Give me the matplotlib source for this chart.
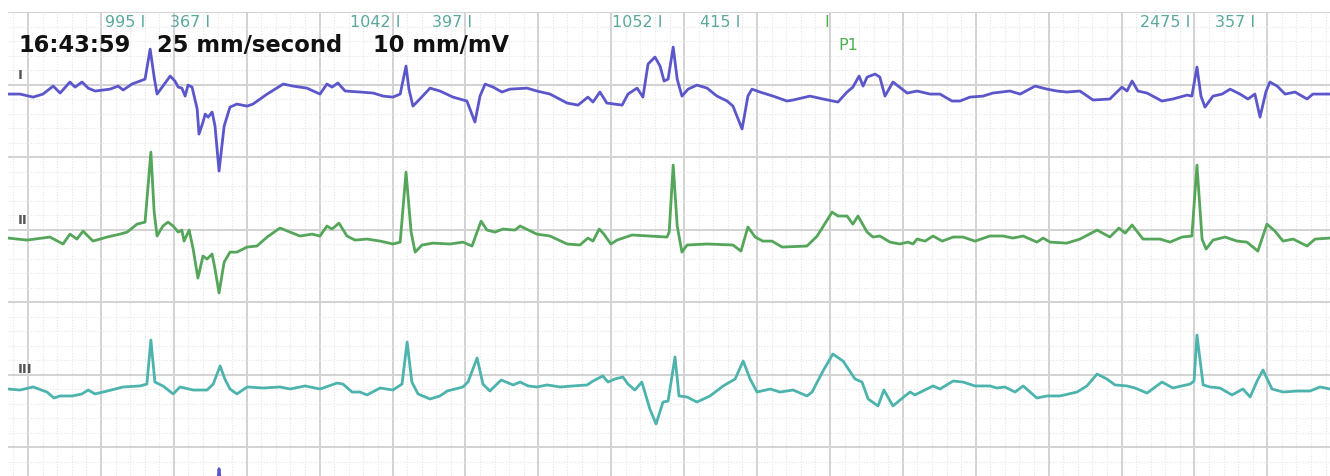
import matplotlib
matplotlib.use("Agg")
import matplotlib.pyplot as plt
import numpy as np

# ---------------- data (time in s, amplitude in mV) ----------------
lead_I_t = [-0.055, -0.022, 0.014, 0.041, 0.069, 0.088, 0.115, 0.129, 0.148, 0.165,
            0.184, 0.225, 0.247, 0.261, 0.285, 0.307, 0.321, 0.335, 0.346, 0.354,
            0.370, 0.390, 0.403, 0.412, 0.422, 0.431, 0.439, 0.450, 0.464, 0.469,
            0.480, 0.486, 0.494, 0.505, 0.513, 0.524, 0.538, 0.554, 0.573, 0.601,
            0.617, 0.656, 0.700, 0.727, 0.765, 0.801, 0.820, 0.834, 0.850, 0.870,
            0.911, 0.947, 0.974, 1.001, 1.021, 1.037, 1.045, 1.056, 1.075, 1.103,
            1.130, 1.166, 1.204, 1.226, 1.240, 1.254, 1.276, 1.300, 1.322, 1.369,
            1.396, 1.432, 1.479, 1.509, 1.536, 1.550, 1.569, 1.588, 1.630, 1.646,
            1.671, 1.687, 1.701, 1.720, 1.734, 1.745, 1.756, 1.770, 1.781, 1.794,
            1.811, 1.835, 1.863, 1.890, 1.918, 1.934, 1.959, 1.975, 1.986, 2.008,
            2.044, 2.082, 2.099, 2.145, 2.181, 2.222, 2.247, 2.263, 2.280, 2.291,
            2.302, 2.324, 2.337, 2.351, 2.373, 2.412, 2.439, 2.475, 2.502, 2.535,
            2.557, 2.584, 2.620, 2.647, 2.694, 2.722, 2.763, 2.796, 2.823, 2.850,
            2.886, 2.922, 2.968, 3.001, 3.015, 3.029, 3.045, 3.070, 3.111, 3.141,
            3.180, 3.193, 3.207, 3.218, 3.229, 3.251, 3.276, 3.298, 3.325, 3.347,
            3.366, 3.380, 3.396, 3.407, 3.427, 3.449, 3.476, 3.509, 3.525, 3.572]
lead_I_v = [0.000, 0.000, -0.021, 0.000, 0.055, 0.007, 0.083, 0.048, 0.083, 0.041,
            0.021, 0.034, 0.055, 0.028, 0.069, 0.090, 0.103, 0.310, 0.117, 0.000,
            0.055, 0.124, 0.090, 0.048, 0.041, -0.014, 0.062, 0.048, -0.103, -0.276,
            -0.193, -0.138, -0.159, -0.124, -0.221, -0.531, -0.221, -0.090, -0.069, -0.083,
            -0.069, 0.000, 0.069, 0.055, 0.041, 0.000, 0.069, 0.048, 0.076, 0.021,
            0.014, 0.007, -0.014, -0.021, 0.000, 0.193, 0.034, -0.083, -0.034, 0.041,
            0.021, -0.021, -0.048, -0.193, -0.014, 0.069, 0.048, 0.014, 0.034, 0.041,
            0.021, 0.000, -0.062, -0.076, -0.021, -0.055, 0.014, -0.062, -0.076, 0.000,
            0.041, -0.021, 0.207, 0.255, 0.193, 0.090, 0.103, 0.324, 0.103, -0.014,
            0.034, 0.062, 0.041, -0.014, -0.048, -0.083, -0.241, -0.014, 0.034, 0.014,
            -0.014, -0.048, -0.041, -0.014, -0.034, -0.055, 0.014, 0.048, 0.124, 0.055,
            0.117, 0.138, 0.117, -0.014, 0.083, 0.007, 0.021, 0.000, 0.000, -0.048,
            -0.048, -0.021, -0.014, 0.007, 0.021, 0.000, 0.055, 0.034, 0.021, 0.014,
            0.021, -0.041, -0.034, 0.048, 0.021, 0.090, 0.021, 0.007, -0.048, -0.034,
            -0.007, -0.014, 0.186, -0.014, -0.090, -0.014, 0.000, 0.034, 0.000, -0.034,
            0.000, -0.159, 0.014, 0.083, 0.055, 0.000, 0.014, -0.034, 0.000, 0.000]

lead_II_t = [-0.055, -0.003, 0.060, 0.096, 0.115, 0.134, 0.151, 0.178, 0.217, 0.252,
             0.272, 0.299, 0.321, 0.337, 0.346, 0.354, 0.370, 0.384, 0.398, 0.412,
             0.422, 0.428, 0.442, 0.453, 0.466, 0.480, 0.491, 0.505, 0.513, 0.524,
             0.538, 0.554, 0.573, 0.601, 0.628, 0.656, 0.691, 0.719, 0.746, 0.779,
             0.801, 0.820, 0.834, 0.853, 0.875, 0.897, 0.930, 0.966, 1.001, 1.021,
             1.037, 1.051, 1.062, 1.081, 1.111, 1.158, 1.193, 1.218, 1.243, 1.259,
             1.281, 1.303, 1.336, 1.350, 1.396, 1.432, 1.479, 1.514, 1.536, 1.550,
             1.567, 1.580, 1.599, 1.616, 1.657, 1.706, 1.753, 1.759, 1.770, 1.781,
             1.794, 1.808, 1.863, 1.934, 1.956, 1.975, 1.995, 2.016, 2.041, 2.069,
             2.137, 2.165, 2.206, 2.222, 2.247, 2.263, 2.277, 2.302, 2.318, 2.337,
             2.365, 2.392, 2.414, 2.428, 2.439, 2.461, 2.483, 2.508, 2.538, 2.565,
             2.598, 2.639, 2.675, 2.702, 2.730, 2.768, 2.785, 2.804, 2.850, 2.886,
             2.933, 2.968, 2.993, 3.010, 3.029, 3.059, 3.106, 3.133, 3.166, 3.193,
             3.207, 3.221, 3.232, 3.251, 3.284, 3.317, 3.344, 3.374, 3.399, 3.421,
             3.443, 3.471, 3.509, 3.531, 3.572]
lead_II_v = [0.007, -0.007, 0.014, -0.034, 0.034, 0.000, 0.055, -0.014, 0.014, 0.034,
             0.048, 0.103, 0.117, 0.600, 0.186, 0.021, 0.090, 0.117, 0.090, 0.048,
             0.062, -0.014, 0.062, -0.069, -0.269, -0.117, -0.138, -0.103, -0.207, -0.372,
             -0.159, -0.090, -0.090, -0.055, -0.048, 0.014, 0.076, 0.048, 0.021, 0.034,
             0.021, 0.090, 0.069, 0.110, 0.021, -0.007, 0.000, -0.014, -0.034, -0.021,
             0.462, 0.048, -0.090, -0.041, -0.028, -0.034, -0.021, -0.048, 0.124, 0.062,
             0.048, 0.069, 0.062, 0.090, 0.034, 0.021, -0.034, -0.041, 0.007, -0.014,
             0.069, 0.034, -0.034, -0.007, 0.028, 0.021, 0.014, 0.048, 0.510, 0.090,
             -0.090, -0.041, -0.034, -0.041, -0.083, 0.083, 0.014, -0.014, -0.014, -0.055,
             -0.048, 0.021, 0.186, 0.159, 0.159, 0.103, 0.159, 0.048, 0.014, 0.021,
             -0.021, -0.034, -0.021, -0.034, 0.000, -0.014, 0.021, -0.014, 0.014, 0.014,
             -0.014, 0.021, 0.021, 0.007, 0.021, -0.021, 0.007, -0.021, -0.028, 0.000,
             0.062, 0.014, 0.076, 0.041, 0.097, 0.000, 0.000, -0.021, 0.014, 0.021,
             0.510, 0.000, -0.069, -0.007, 0.014, -0.014, -0.021, -0.083, 0.103, 0.055,
             -0.014, 0.000, -0.048, 0.000, 0.007]

lead_III_t = [-0.055, -0.022, 0.014, 0.052, 0.071, 0.088, 0.121, 0.148, 0.165, 0.184,
              0.217, 0.261, 0.307, 0.326, 0.337, 0.348, 0.370, 0.381, 0.398, 0.417,
              0.453, 0.491, 0.508, 0.527, 0.540, 0.554, 0.573, 0.601, 0.645, 0.691,
              0.719, 0.760, 0.801, 0.848, 0.864, 0.889, 0.911, 0.930, 0.966, 1.001,
              1.026, 1.040, 1.053, 1.070, 1.103, 1.130, 1.150, 1.193, 1.207, 1.232,
              1.248, 1.267, 1.298, 1.331, 1.350, 1.372, 1.396, 1.424, 1.460, 1.495,
              1.534, 1.550, 1.577, 1.591, 1.610, 1.632, 1.646, 1.665, 1.684, 1.706,
              1.723, 1.742, 1.756, 1.775, 1.786, 1.808, 1.835, 1.871, 1.907, 1.940,
              1.962, 1.981, 2.000, 2.036, 2.063, 2.099, 2.137, 2.151, 2.181, 2.208,
              2.236, 2.269, 2.288, 2.305, 2.332, 2.348, 2.373, 2.406, 2.420, 2.433,
              2.455, 2.483, 2.502, 2.538, 2.565, 2.598, 2.639, 2.658, 2.680, 2.708,
              2.730, 2.768, 2.796, 2.831, 2.878, 2.905, 2.933, 2.960, 2.982, 3.015,
              3.037, 3.070, 3.111, 3.141, 3.188, 3.199, 3.207, 3.224, 3.243, 3.270,
              3.303, 3.333, 3.353, 3.372, 3.388, 3.413, 3.443, 3.481, 3.517, 3.545,
              3.572]
lead_III_v = [0.000, -0.007, 0.014, -0.021, -0.062, -0.048, -0.048, -0.034, -0.007, -0.034,
              -0.014, 0.014, 0.021, 0.034, 0.338, 0.048, 0.021, 0.000, -0.034, 0.014,
              -0.007, -0.007, 0.034, 0.159, 0.069, 0.000, -0.034, 0.014, 0.007, 0.014,
              0.000, 0.021, 0.000, 0.041, 0.034, -0.021, -0.021, -0.041, 0.007, -0.007,
              0.034, 0.324, 0.048, -0.034, -0.069, -0.048, -0.014, 0.014, 0.048, 0.214,
              0.034, -0.014, 0.062, 0.028, 0.048, 0.021, 0.014, 0.028, 0.014, 0.021,
              0.028, 0.055, 0.090, 0.048, 0.069, 0.083, 0.034, -0.007, 0.048, -0.138,
              -0.241, -0.090, -0.083, 0.221, -0.048, -0.055, -0.090, -0.048, 0.021, 0.069,
              0.193, 0.069, -0.021, 0.000, -0.021, -0.007, -0.048, -0.021, 0.124, 0.241,
              0.193, 0.069, 0.048, -0.069, -0.117, -0.007, -0.117, -0.048, -0.021, -0.041,
              -0.014, 0.021, 0.000, 0.055, 0.048, 0.021, 0.021, 0.007, 0.014, -0.021,
              0.021, -0.062, -0.048, -0.048, -0.021, 0.021, 0.103, 0.069, 0.028, 0.021,
              0.007, -0.028, 0.048, 0.007, 0.034, 0.055, 0.372, 0.028, 0.014, 0.007,
              -0.041, 0.000, -0.055, 0.055, 0.131, 0.000, -0.021, -0.014, -0.014, 0.014,
              0.000]

# partially visible next lead (only the tip of one complex shows)
lead_IV_t = [0.505, 0.518, 0.524, 0.530, 0.543]
lead_IV_v = [0.05, 0.30, 0.45, 0.30, 0.05]

# beat annotations (RR intervals in ms) and their marker times
rr_labels = ["995 I", "367 I", "1042 I", "397 I", "1052 I", "415 I", "2475 I", "357 I"]
rr_times = [0.321, 0.499, 1.021, 1.218, 1.742, 1.953, 3.188, 3.366]
pause_time = 2.198
pause_label = "P1"

lead_names = ["I", "II", "III"]
header = ["16:43:59", "25 mm/second", "10 mm/mV"]

# ---------------- figure ----------------
W, H = 1330, 477
fig = plt.figure(figsize=(W / 100, H / 100), dpi=100)
ax = fig.add_axes([8 / W, 0, 1 - 8 / W, 1 - 13 / H])
ax.set_xlim(-0.055, 3.572)
ax.set_ylim(-3.2, 0.0)

# ECG paper grid
ax.set_xticks(np.arange(0, 3.6, 0.2))
ax.set_yticks(np.arange(-3.0, 0.01, 0.5))
ax.set_xticks(np.arange(-0.04, 3.6, 0.04), minor=True)
ax.set_yticks(np.arange(-3.2, 0.01, 0.1), minor=True)
ax.grid(which="major", color="#d2d2d2", linewidth=1.4)
ax.grid(which="minor", color="#e6e6e6", linewidth=0.8, linestyle=(0, (1, 1.5)))
ax.set_axisbelow(True)
ax.tick_params(which="both", length=0, labelbottom=False, labelleft=False)
for s in ax.spines.values():
    s.set_visible(False)

offsets = [-0.566, -1.566, -2.600]
colors = ["#5b56c9", "#55a55a", "#4db3ad"]
series = [(lead_I_t, lead_I_v), (lead_II_t, lead_II_v), (lead_III_t, lead_III_v)]
for (t, v), off, c in zip(series, offsets, colors):
    ax.plot(t, np.asarray(v) + off, color=c, lw=2.0, solid_joinstyle="round",
            solid_capstyle="round")
ax.plot(lead_IV_t, np.asarray(lead_IV_v) - 3.6, color="#5b56c9", lw=2.0)

# lead labels
label_y = [-0.43, -1.43, -2.46]
for name, y in zip(lead_names, label_y):
    ax.text(-0.028, y, name, fontsize=9.5, fontweight="bold", color="#555555",
            ha="left", va="center", family="DejaVu Sans")

# header
header_x = [-0.027, 0.354, 0.947]
for txt, x in zip(header, header_x):
    ax.text(x, -0.225, txt, fontsize=16.3, fontweight="bold", color="#111111",
            ha="left", va="center", family="DejaVu Sans")

# RR annotations
for lab, x in zip(rr_labels, rr_times):
    ax.text(x, -0.065, lab, fontsize=11.5, color="#5aa89e", ha="right", va="center",
            family="DejaVu Sans")
ax.text(pause_time, -0.065, "I", fontsize=11.5, color="#4caf50", ha="right", va="center",
        family="DejaVu Sans")
ax.text(pause_time + 0.025, -0.225, pause_label, fontsize=11.5, color="#4caf50",
        ha="left", va="center", family="DejaVu Sans")

fig.savefig("out.png", dpi=100)
